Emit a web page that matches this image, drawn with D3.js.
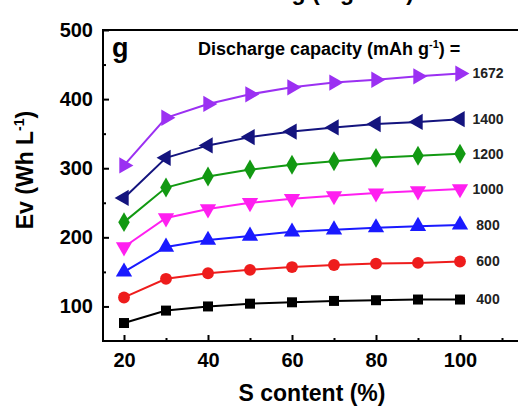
<!DOCTYPE html>
<html>
<head>
<meta charset="utf-8">
<script src="https://cdn.jsdelivr.net/npm/d3@7"></script>
<style>
  body { margin: 0; background: #fff; }
  svg { display: block; font-family: "Liberation Sans", Arial, sans-serif; font-weight: bold; }
</style>
</head>
<body>
<script>
// S content (%) on the x axis
var sContent = [20, 30, 40, 50, 60, 70, 80, 90, 100];

// discharge capacity labels, one series each
var capacities = ["400", "600", "800", "1000", "1200", "1400", "1672"];

// Ev (Wh L-1)
var ev400  = [76, 94, 100, 104, 106, 108, 109, 110, 110];
var ev600  = [113, 140, 148, 153, 157, 160, 162, 163, 165];
var ev800  = [150, 186, 196, 202, 208, 211, 214, 216, 218];
var ev1000 = [186, 228, 241, 250, 256, 260, 264, 267, 270];
var ev1200 = [222, 272, 288, 298, 305, 310, 315, 318, 321];
var ev1400 = [257, 315, 333, 345, 353, 359, 364, 367, 371];
var ev1672 = [304, 373, 393, 407, 417, 424, 428, 433, 437];

var yTicks = [100, 200, 300, 400, 500];
var xTicks = [20, 40, 60, 80, 100];

var colors = ["#000000", "#ee1c1c", "#1a1aff", "#ff1ff0", "#129912", "#14147e", "#9b30f2"];
var shapes = [
  {type: d3.symbolSquare, rot: 0, size: 100},
  {type: d3.symbolCircle, rot: 0, size: 110},
  {type: d3.symbolTriangle, rot: 0, size: 115},
  {type: d3.symbolTriangle, rot: 180, size: 115},
  {type: d3.symbolDiamond, rot: 0, size: 115},
  {type: d3.symbolTriangle, rot: -90, size: 115},
  {type: d3.symbolTriangle, rot: 90, size: 115}
];
var allSeries = [ev400, ev600, ev800, ev1000, ev1200, ev1400, ev1672];

var W = 518, H = 406;
var pLeft = 103, pTop = 30, pRight = 523, pBottom = 341;

var svg = d3.select("body").append("svg")
    .attr("width", W)
    .attr("height", H);

var x = d3.scaleLinear().domain([15, 115]).range([pLeft, pRight]);
var y = d3.scaleLinear().domain([50, 500]).range([pBottom, pTop]);

// heading of the panel above, mostly cut off by the crop
var head = svg.append("text")
    .attr("x", 202)
    .attr("y", 0)
    .style("font-size", "23px");
head.append("tspan").text("S loading (mg cm");
head.append("tspan").attr("dy", -9).style("font-size", "14px").text("-2");
head.append("tspan").attr("dy", 9).text(")");

// frame
svg.append("rect")
    .attr("x", pLeft)
    .attr("y", pTop)
    .attr("width", pRight - pLeft)
    .attr("height", pBottom - pTop)
    .attr("fill", "none")
    .attr("stroke", "#000")
    .attr("stroke-width", 2);

// axes, ticks pointing inward
var xAxis = svg.append("g")
    .attr("transform", "translate(0," + pBottom + ")")
    .call(d3.axisBottom(x).tickValues(xTicks).tickSize(-6).tickPadding(10).tickFormat(d3.format("d")));
svg.append("g")
    .attr("transform", "translate(0," + pBottom + ")")
    .call(d3.axisBottom(x).tickValues([30, 50, 70, 90, 110]).tickSize(-3).tickFormat(""));
var yAxis = svg.append("g")
    .attr("transform", "translate(" + pLeft + ",0)")
    .call(d3.axisLeft(y).tickValues(yTicks).tickSize(-6).tickPadding(10).tickFormat(d3.format("d")));
svg.append("g")
    .attr("transform", "translate(" + pLeft + ",0)")
    .call(d3.axisLeft(y).tickValues([150, 250, 350, 450]).tickSize(-3).tickFormat(""));

svg.selectAll(".domain").remove();
svg.selectAll(".tick line").attr("stroke", "#000").attr("stroke-width", 2);
svg.selectAll(".tick text")
    .attr("fill", "#000")
    .style("font-size", "20px")
    .style("font-family", "'Liberation Sans', Arial, sans-serif")
    .style("font-weight", "bold");
xAxis.selectAll(".tick text").attr("dy", "0.8em");

// axis titles
svg.append("text")
    .attr("x", 312)
    .attr("y", 401)
    .attr("text-anchor", "middle")
    .style("font-size", "23px")
    .text("S content (%)");

var yTitle = svg.append("text")
    .attr("transform", "translate(33,170) rotate(-90)")
    .attr("text-anchor", "middle")
    .style("font-size", "23px");
yTitle.append("tspan").text("Ev (Wh L");
yTitle.append("tspan").attr("dy", -9).style("font-size", "14px").text("-1");
yTitle.append("tspan").attr("dy", 9).text(")");

// panel letter and legend title
svg.append("text")
    .attr("x", 112)
    .attr("y", 57)
    .style("font-size", "27px")
    .text("g");

var lt = svg.append("text")
    .attr("x", 198)
    .attr("y", 55)
    .style("font-size", "18px");
lt.append("tspan").text("Discharge capacity (mAh g");
lt.append("tspan").attr("dy", -7).style("font-size", "11px").text("-1");
lt.append("tspan").attr("dy", 7).text(") =");

// series
var line = d3.line()
    .x(function(d, i) { return x(sContent[i]); })
    .y(function(d) { return y(d); });

allSeries.forEach(function(vals, k) {
  var g = svg.append("g");
  g.append("path")
      .datum(vals)
      .attr("d", line)
      .attr("fill", "none")
      .attr("stroke", colors[k])
      .attr("stroke-width", 2);

  var sym = d3.symbol().type(shapes[k].type).size(shapes[k].size);
  g.selectAll("path.pt")
      .data(vals)
    .enter().append("path")
      .attr("class", "pt")
      .attr("d", sym)
      .attr("fill", colors[k])
      .attr("transform", function(d, i) {
        return "translate(" + x(sContent[i]) + "," + y(d) + ")rotate(" + shapes[k].rot + ")";
      });

  svg.append("text")
      .attr("x", 488)
      .attr("y", y(vals[vals.length - 1]))
      .attr("dy", "0.35em")
      .attr("text-anchor", "middle")
      .style("font-size", "14px")
      .attr("fill", "#222")
      .text(capacities[k]);
});
</script>
</body>
</html>
